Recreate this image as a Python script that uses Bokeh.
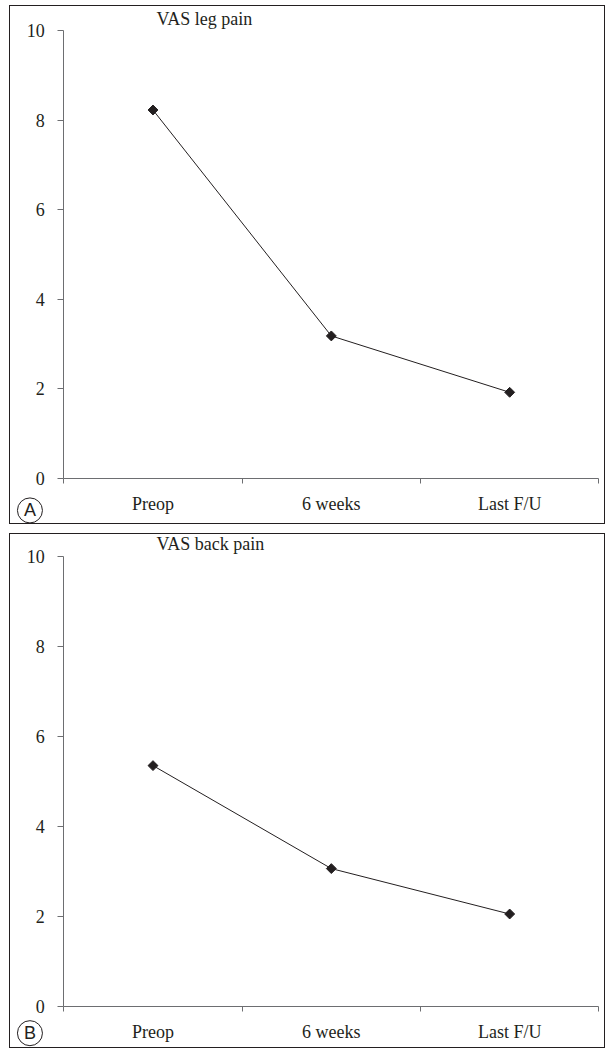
from bokeh.plotting import figure
from bokeh.models import FixedTicker, Label, ColumnDataSource
from bokeh.layouts import column
from bokeh.embed import file_html
from bokeh.resources import INLINE
import math

categories = ["Preop", "6 weeks", "Last F/U"]
leg_pain = [8.23, 3.18, 1.92]
back_pain = [5.35, 3.06, 2.05]
y_ticks = [0, 2, 4, 6, 8, 10]
titles = ["VAS leg pain", "VAS back pain"]
panel_letters = ["A", "B"]

W = 596
SERIF = "Liberation Serif"
INK = "#231f20"
AXIS = "#6d6e71"


def make_panel(values, title, letter, H, y_lo, y_hi, letter_y):
    n = len(categories)
    xs = [i + 0.5 for i in range(n)]
    src = ColumnDataSource(dict(x=xs, y=values))
    p = figure(width=W, height=H, x_range=(-0.299, 3.043), y_range=(y_lo, y_hi),
               output_backend="svg", toolbar_location=None,
               min_border_left=0, min_border_right=0, min_border_top=0,
               min_border_bottom=0,
               styles={"border": "1px solid #231f20"})
    p.outline_line_color = None
    p.xgrid.visible = False
    p.ygrid.visible = False

    p.line("x", "y", source=src, line_color=INK, line_width=1)
    p.scatter("x", "y", source=src, marker="square", size=7, angle=math.pi / 4,
              fill_color=INK, line_color=INK)

    xa = p.xaxis[0]
    xa.fixed_location = 0
    xa.bounds = (0, n)
    xa.ticker = FixedTicker(ticks=xs, minor_ticks=list(range(n + 1)))
    xa.major_label_overrides = {x: c for x, c in zip(xs, categories)}
    xa.major_tick_out = 0
    xa.major_tick_in = 0
    xa.minor_tick_out = 5
    xa.minor_tick_in = 0
    xa.minor_tick_line_color = AXIS
    xa.axis_line_color = AXIS
    xa.major_label_standoff = 11
    xa.major_label_text_font = SERIF
    xa.major_label_text_font_size = "18px"
    xa.major_label_text_color = INK

    ya = p.yaxis[0]
    ya.fixed_location = 0
    ya.bounds = (0, 10)
    ya.ticker = FixedTicker(ticks=y_ticks, minor_ticks=[])
    ya.major_tick_out = 6
    ya.major_tick_in = 0
    ya.major_tick_line_color = AXIS
    ya.axis_line_color = AXIS
    ya.major_label_standoff = 13
    ya.major_label_text_font = SERIF
    ya.major_label_text_font_size = "18px"
    ya.major_label_text_color = INK

    p.add_layout(Label(x=0.52, y=10.27, text=title, text_font=SERIF,
                       text_font_size="18px", text_color=INK,
                       text_baseline="middle", text_align="left"))

    # circled panel letter
    p.scatter(x=[-0.19], y=[letter_y], marker="circle", size=25,
              fill_color=None, line_color=INK, line_width=1)
    p.add_layout(Label(x=-0.19, y=letter_y, text=letter, text_font="Liberation Sans",
                       text_font_size="18px", text_color=INK,
                       text_baseline="middle", text_align="center"))
    return p


pa = make_panel(leg_pain, titles[0], panel_letters[0], 519, -1.057, 10.543, -0.72)
pb = make_panel(back_pain, titles[1], panel_letters[1], 515, -0.963, 10.489, -0.6)
layout = column(pa, pb, spacing=9, styles={"padding-left": "9px", "padding-top": "5px"})

open("out.html", "w").write(file_html(layout, INLINE))
